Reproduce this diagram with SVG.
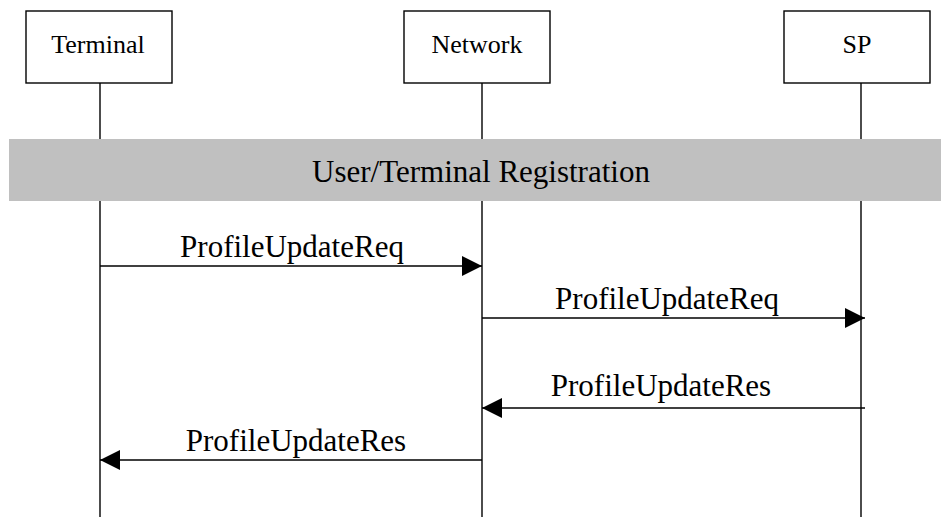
<svg xmlns="http://www.w3.org/2000/svg" width="941" height="517" viewBox="0 0 941 517">
<style>
.box{fill:#fff;stroke:#000;stroke-width:1.4}
.life{stroke:#000;stroke-width:1.4}
.msg{stroke:#000;stroke-width:1.5;fill:none}
.lbl{font-family:"Liberation Serif","Times New Roman",serif;font-size:26px;text-anchor:middle;fill:#000}
.mlbl{font-family:"Liberation Serif","Times New Roman",serif;font-size:31px;text-anchor:middle;fill:#000}
</style>
<defs>
<marker id="ah" markerWidth="20" markerHeight="20" refX="20" refY="10" orient="auto" markerUnits="userSpaceOnUse">
<path d="M0,0 L20,10 L0,20 Z" fill="#000"/>
</marker>
</defs>
<g id="lifelines">
<line class="life" x1="100" y1="83" x2="100" y2="517"/>
<line class="life" x1="482" y1="83" x2="482" y2="517"/>
<line class="life" x1="861" y1="83" x2="861" y2="517"/>
</g>
<g id="terminal">
<rect class="box" x="26" y="11" width="146" height="72"/>
<text class="lbl" x="98" y="53">Terminal</text>
</g>
<g id="network">
<rect class="box" x="404" y="11" width="146" height="72"/>
<text class="lbl" x="477" y="53">Network</text>
</g>
<g id="sp">
<rect class="box" x="784" y="11" width="146" height="72"/>
<text class="lbl" x="857" y="53">SP</text>
</g>
<g id="registration">
<rect x="9" y="139" width="932" height="62" fill="#c0c0c0"/>
<text class="mlbl" x="481" y="182">User/Terminal Registration</text>
</g>
<g id="connectors">
<line class="msg" x1="100" y1="266" x2="482" y2="266" marker-end="url(#ah)"/>
<text class="mlbl" x="292" y="257">ProfileUpdateReq</text>
<line class="msg" x1="482" y1="318" x2="865" y2="318" marker-end="url(#ah)"/>
<text class="mlbl" x="667" y="309">ProfileUpdateReq</text>
<line class="msg" x1="865" y1="408" x2="482" y2="408" marker-end="url(#ah)"/>
<text class="mlbl" x="661" y="396">ProfileUpdateRes</text>
<line class="msg" x1="482" y1="460" x2="100" y2="460" marker-end="url(#ah)"/>
<text class="mlbl" x="296" y="451">ProfileUpdateRes</text>
</g>
</svg>
